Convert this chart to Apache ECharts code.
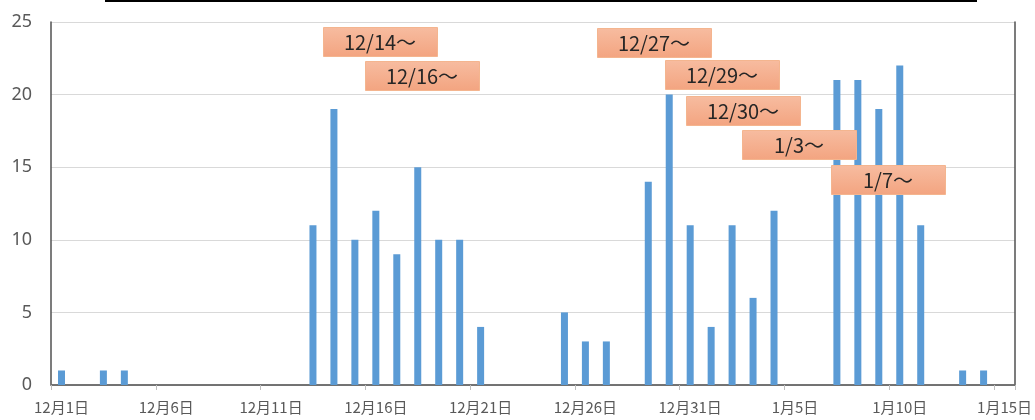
<!DOCTYPE html>
<html>
<head>
<meta charset="utf-8">
<script src="https://cdn.jsdelivr.net/npm/echarts@6/dist/echarts.min.js"></script>
<style>
  html, body { margin: 0; padding: 0; background: #fff; }
  #chart { width: 1035px; height: 420px; }
</style>
</head>
<body>
<div id="chart"></div>
<script>
// 日付カテゴリ (12/1 ～ 1/15)
const categories = [
  '12月1日', '12月2日', '12月3日', '12月4日', '12月5日', '12月6日', '12月7日', '12月8日',
  '12月9日', '12月10日', '12月11日', '12月12日', '12月13日', '12月14日', '12月15日', '12月16日',
  '12月17日', '12月18日', '12月19日', '12月20日', '12月21日', '12月22日', '12月23日', '12月24日',
  '12月25日', '12月26日', '12月27日', '12月28日', '12月29日', '12月30日', '12月31日',
  '1月1日', '1月2日', '1月3日', '1月4日', '1月5日', '1月6日', '1月7日', '1月8日',
  '1月9日', '1月10日', '1月11日', '1月12日', '1月13日', '1月14日', '1月15日'
]
// 日ごとの件数
const values = [
  1, 0, 1, 1, 0, 0, 0, 0,
  0, 0, 0, 0, 11, 19, 10, 12,
  9, 15, 10, 10, 4, 0, 0, 0,
  5, 3, 3, 0, 14, 20, 11,
  4, 11, 6, 12, 0, 0, 21, 21,
  19, 22, 11, 0, 1, 1, 0
]
const yTicks = [0, 5, 10, 15, 20, 25]
// 吹き出しの文言
const noteTexts = ['12/14～', '12/16～', '12/27～', '12/29～', '12/30～', '1/3～', '1/7～']
// 吹き出しの位置 (px)
const notePos = [[323, 27], [365, 61], [597, 28], [665, 60], [686, 96], [742, 130], [831, 165]]

const chart = echarts.init(document.getElementById('chart'))
const frameColor = '#505050'
const labelFont = 'Noto Sans CJK JP'

const notes = []
noteTexts.forEach((t, i) => {
  notes.push({
    type: 'rect',
    shape: { x: notePos[i][0] + 0.5, y: notePos[i][1] + 0.5, width: 114, height: 29 },
    style: {
      fill: new echarts.graphic.LinearGradient(0, 0, 0, 1, [
        { offset: 0, color: '#F7BCA0' },
        { offset: 1, color: '#F3A480' }
      ]),
      stroke: '#F4B58F',
      lineWidth: 1
    },
    z: 100
  })
  notes.push({
    type: 'text',
    x: notePos[i][0] + 57,
    y: notePos[i][1] + 15,
    style: {
      text: t,
      fill: '#262626',
      font: '20px "' + labelFont + '"',
      textAlign: 'center',
      textVerticalAlign: 'middle'
    },
    z: 101
  })
})

const option = {
  animation: false,
  backgroundColor: '#fff',
  grid: { left: 51, right: 17, top: 22, bottom: 35, containLabel: false },
  xAxis: [
    {
      type: 'category',
      data: categories,
      boundaryGap: true,
      axisLine: { lineStyle: { color: '#d9d9d9', width: 1.5 } },
      axisTick: { show: true, interval: 4, length: 5, alignWithLabel: false, lineStyle: { color: '#bfbfbf' } },
      axisLabel: { interval: 4, margin: 15, fontSize: 15, color: '#595959', fontFamily: labelFont }
    },
    {
      type: 'category',
      data: categories,
      position: 'top',
      axisLine: { lineStyle: { color: frameColor, width: 1.5 } },
      axisTick: { show: false },
      axisLabel: { show: false }
    }
  ],
  yAxis: [
    {
      type: 'value',
      min: yTicks[0],
      max: yTicks[yTicks.length - 1],
      interval: 5,
      axisLine: { show: true, lineStyle: { color: frameColor, width: 1.5 } },
      axisTick: { show: false },
      axisLabel: { fontSize: 18, color: '#595959', margin: 19, fontFamily: 'Noto Sans' },
      splitLine: { lineStyle: { color: '#d9d9d9', width: 1 } }
    },
    {
      type: 'value',
      position: 'right',
      min: yTicks[0],
      max: yTicks[yTicks.length - 1],
      interval: 5,
      axisLine: { show: true, lineStyle: { color: frameColor, width: 1.5 } },
      axisTick: { show: false },
      axisLabel: { show: false },
      splitLine: { show: false }
    }
  ],
  series: [
    {
      type: 'bar',
      data: values,
      barWidth: 7,
      itemStyle: { color: '#5B9BD5' }
    }
  ],
  graphic: [
    {
      type: 'line',
      shape: { x1: 105, y1: 1, x2: 977, y2: 1 },
      style: { stroke: '#000', lineWidth: 2 }
    }
  ].concat(notes)
}

chart.setOption(option)
</script>
</body>
</html>
